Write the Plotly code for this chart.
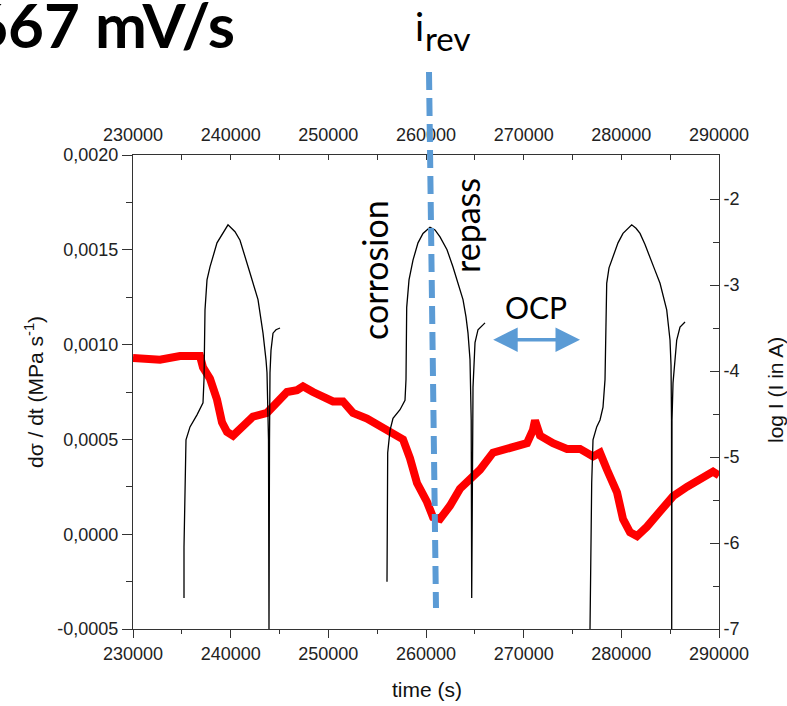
import plotly.graph_objects as go

# ---------------- data ----------------
# red: d sigma / dt (MPa s^-1), left axis
red_t = [230000, 232765, 234812, 236860, 237167, 237884, 238601, 239113, 239625, 240239,
         241263, 242287, 243720, 244744, 245768, 246792, 247406, 248430, 249454, 250478,
         251502, 252526, 253959, 255290, 256621, 257645, 258362, 259079, 260103, 260717,
         261434, 262458, 263482, 264506, 265530, 266861, 268602, 270343, 270957, 271162,
         271674, 273005, 274439, 275770, 277100, 277817, 278534, 279558, 280173, 280889,
         281606, 282630, 283961, 285292, 286726, 288057, 289388, 290000]
red_v = [0.00093, 0.00092, 0.00094, 0.00094, 0.00088, 0.00082, 0.00071, 0.00059, 0.00054, 0.00052,
         0.00057, 0.00062, 0.00064, 0.00070, 0.00075, 0.00076, 0.00078, 0.00075, 0.00073, 0.00070,
         0.00070, 0.00064, 0.00061, 0.00057, 0.00054, 0.00050, 0.00040, 0.00027, 0.00017, 0.00009,
         0.00008, 0.00015, 0.00024, 0.00029, 0.00034, 0.00043, 0.00046, 0.00048, 0.00055, 0.00060,
         0.00052, 0.00048, 0.00045, 0.00045, 0.00041, 0.00043, 0.00034, 0.00022, 0.00008, 0.00001,
         -0.00001, 0.00004, 0.00012, 0.00020, 0.00025, 0.00029, 0.00033, 0.00031]

# black: log I (I in A), right axis -- three polarisation cycles
cyc1_t = [235222, 235222, 235396, 235427, 235836, 236553, 237167, 237270, 237372, 237577,
          237884, 238601, 239727, 240444, 240956, 241468, 241980, 242800, 243312, 243618,
          243720, 243874, 243925, 243976, 244027, 244130, 244335, 244642, 245052]
cyc1_L = [-6.64, -6.05, -4.98, -4.80, -4.65, -4.51, -4.37, -4.10, -3.29, -2.94,
          -2.79, -2.51, -2.30, -2.38, -2.48, -2.66, -2.86, -3.17, -3.56, -3.87,
          -4.02, -4.80, -7.00, -4.80, -4.02, -3.76, -3.56, -3.52, -3.50]
cyc2_t = [256007, 256007, 256079, 256315, 256621, 257338, 257850, 257952, 258024, 258260,
          258669, 259181, 259693, 260410, 260922, 261434, 262151, 262765, 263277, 263789,
          264096, 264301, 264506, 264577, 264628, 264680, 264731, 264813, 265018, 265325, 266042]
cyc2_L = [-6.45, -5.97, -4.95, -4.69, -4.55, -4.45, -4.34, -4.10, -3.26, -2.94,
          -2.71, -2.51, -2.40, -2.33, -2.36, -2.44, -2.59, -2.79, -2.98, -3.17,
          -3.37, -3.56, -3.87, -4.19, -4.57, -6.64, -4.57, -4.19, -3.67, -3.52, -3.44]
cyc3_t = [276793, 276895, 276966, 277100, 277479, 277817, 278124, 278329, 278380, 278503,
          278738, 279148, 279660, 280172, 281062, 281503, 281913, 282425, 282937, 283449,
          283961, 284371, 284646, 284984, 285087, 285138, 285158, 285189, 285292, 285671,
          286009, 286521]
cyc3_L = [-7.00, -5.97, -5.30, -4.80, -4.65, -4.57, -4.42, -4.10, -3.56, -2.98,
          -2.80, -2.67, -2.51, -2.40, -2.30, -2.34, -2.40, -2.53, -2.67, -2.83,
          -2.98, -3.15, -3.29, -3.64, -3.93, -4.57, -7.00, -4.57, -4.14, -3.64,
          -3.49, -3.43]

# ticks
x_ticks = [230000, 240000, 250000, 260000, 270000, 280000, 290000]
x_ticktext = ["230000", "240000", "250000", "260000", "270000", "280000", "290000"]
x_minor = [235000, 245000, 255000, 265000, 275000, 285000]
y1_ticks = [-0.0005, 0.0, 0.0005, 0.0010, 0.0015, 0.0020]
y1_ticktext = ["-0,0005", "0,0000", "0,0005", "0,0010", "0,0015", "0,0020"]
y1_minor = [-0.00025, 0.00025, 0.00075, 0.00125, 0.00175]
y2_ticks = [-7, -6, -5, -4, -3, -2]
y2_ticktext = ["-7", "-6", "-5", "-4", "-3", "-2"]
y2_minor = [-6.5, -5.5, -4.5, -3.5, -2.5, -1.5]

# annotation anchors (data units)
irev_t_top, irev_t_bottom = 260307, 261024
ocp_t_start, ocp_t_end, ocp_v = 266728, 275768, 0.001026

# ---------------- layout geometry ----------------
W, H = 787, 706
ML, MR, MT, MB = 133, 68, 155, 77
PW, PH = W - ML - MR, H - MT - MB


def px(x):
    return (x - ML) / PW


def py(y):
    return (H - MB - y) / PH


black_t = cyc1_t + [None] + cyc2_t + [None] + cyc3_t
black_L = cyc1_L + [None] + cyc2_L + [None] + cyc3_L

fig = go.Figure()
fig.add_trace(go.Scatter(x=red_t, y=red_v, mode="lines",
                         line=dict(color="#ff0000", width=8), xaxis="x", yaxis="y",
                         hoverinfo="skip", showlegend=False))
fig.add_trace(go.Scatter(x=black_t, y=black_L, mode="lines", connectgaps=False,
                         line=dict(color="#000000", width=1.3), xaxis="x", yaxis="y2",
                         hoverinfo="skip", showlegend=False))
fig.add_trace(go.Scatter(x=[x_ticks[0], x_ticks[-1]], y=[None, None], mode="lines",
                         xaxis="x2", yaxis="y", hoverinfo="skip", showlegend=False))

axis_col = "#333333"
tick_font = dict(family="Liberation Sans, Arial, sans-serif", size=18, color="#222222")
title_font = dict(family="Liberation Sans, Arial, sans-serif", size=21, color="#111111")
lato = "Lato, Open Sans, sans-serif"
blue = "#5B9BD5"

common_x = dict(range=[230000, 290000], tickmode="array", tickvals=x_ticks, ticktext=x_ticktext,
                showline=True, linecolor=axis_col, linewidth=1, showgrid=False, zeroline=False,
                tickfont=tick_font, tickcolor=axis_col)

fig.update_layout(
    width=W, height=H,
    margin=dict(l=ML, r=MR, t=MT, b=MB, pad=0),
    paper_bgcolor="white", plot_bgcolor="white",
    showlegend=False,
    xaxis=dict(**common_x, side="bottom", ticks="outside", ticklen=8, tickwidth=1,
               minor=dict(tickvals=x_minor, ticks="outside", ticklen=4, tickcolor=axis_col)),
    xaxis2=dict(**common_x, side="top", overlaying="x", anchor="y", ticks="inside", ticklen=5,
                tickwidth=1, ticklabelstandoff=6,
                minor=dict(tickvals=x_minor, ticks="inside", ticklen=5, tickcolor=axis_col)),
    yaxis=dict(range=[-0.0005, 0.0020], tickmode="array", tickvals=y1_ticks, ticktext=y1_ticktext,
               showline=True, linecolor=axis_col, linewidth=1, showgrid=False, zeroline=False,
               ticks="outside", ticklen=10, tickwidth=1, tickcolor=axis_col, tickfont=tick_font,
               minor=dict(tickvals=y1_minor, ticks="outside", ticklen=6, tickcolor=axis_col)),
    yaxis2=dict(range=[-7, -7 + (629 - 155) / 86.0], tickmode="array", tickvals=y2_ticks,
                ticktext=y2_ticktext, overlaying="y", side="right", anchor="x",
                showline=True, linecolor=axis_col, linewidth=1, showgrid=False, zeroline=False,
                ticks="inside", ticklen=9, tickwidth=1, tickcolor=axis_col, tickfont=tick_font,
                minor=dict(tickvals=y2_minor, ticks="inside", ticklen=6, tickcolor=axis_col)),
    shapes=[dict(type="line", xref="x", yref="paper",
                 x0=irev_t_top, y0=py(72), x1=irev_t_bottom, y1=py(608),
                 line=dict(color=blue, width=6, dash="18px,8px"), layer="above")],
    annotations=[
        dict(text="<b>667 mV/s</b>", xref="paper", yref="paper", x=px(-30), y=py(24),
             xanchor="left", yanchor="middle", showarrow=False,
             font=dict(family=lato, size=62, color="#000000")),
        dict(text="i", xref="paper", yref="paper", x=px(419), y=py(26),
             xanchor="center", yanchor="middle", showarrow=False,
             font=dict(family=lato, size=38, color="#000000")),
        dict(text="rev", xref="paper", yref="paper", x=px(423), y=py(38),
             xanchor="left", yanchor="middle", showarrow=False,
             font=dict(family=lato, size=33, color="#000000")),
        dict(text="corrosion", xref="paper", yref="paper", x=px(374), y=py(270),
             xanchor="center", yanchor="middle", textangle=-90, showarrow=False,
             font=dict(family=lato, size=34, color="#000000")),
        dict(text="repass", xref="paper", yref="paper", x=px(467), y=py(226),
             xanchor="center", yanchor="middle", textangle=-90, showarrow=False,
             font=dict(family=lato, size=34, color="#000000")),
        dict(text="OCP", xref="paper", yref="paper", x=px(536), y=py(307),
             xanchor="center", yanchor="middle", showarrow=False,
             font=dict(family=lato, size=30, color="#000000")),
        dict(text="", xref="x", yref="y", x=ocp_t_end, y=ocp_v, ax=ocp_t_start, ay=ocp_v,
             axref="x", ayref="y", showarrow=True, arrowside="end+start", arrowhead=2,
             arrowsize=1.4, arrowwidth=3.5, arrowcolor=blue, standoff=0, startstandoff=0),
        dict(text="dσ / dt (MPa s<sup>-1</sup>)", xref="paper", yref="paper", x=px(34), y=0.5,
             xanchor="center", yanchor="middle", textangle=-90, showarrow=False,
             font=title_font),
        dict(text="log I (I in A)", xref="paper", yref="paper", x=px(775), y=py(390),
             xanchor="center", yanchor="middle", textangle=-90, showarrow=False,
             font=title_font),
        dict(text="time (s)", xref="paper", yref="paper", x=px(427), y=py(689),
             xanchor="center", yanchor="middle", showarrow=False, font=title_font),
    ],
)

fig.write_html("out.html")
